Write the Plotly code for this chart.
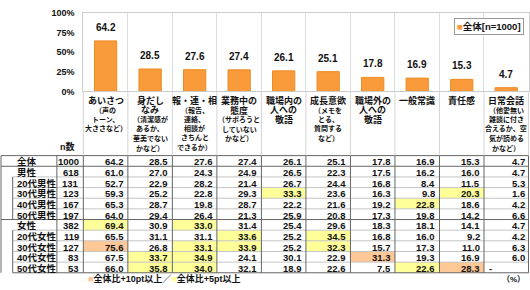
import plotly.graph_objects as go

# ---------------- data ----------------
cat_main = [["あいさつ"], ["身だし", "なみ"], ["報・連・相"], ["業務中の", "態度"],
            ["職場内の", "人への", "敬語"], ["成長意欲"], ["職場外の", "人への", "敬語"],
            ["一般常識"], ["責任感"], ["日常会話"]]
cat_sub = [["（声の", "トーン、", "大きさなど）"],
           ["（清潔感が", "あるか、", "華美でない", "かなど）"],
           ["（報告、", "連絡、", "相談が", "きちんと", "できるか）"],
           ["（サボろうと", "していない", "かなど）"],
           [],
           ["（メモを", "とる、", "質問する", "など）"],
           [], [], [],
           ["（他愛無い", "雑談に付き", "合えるか、空", "気が読める", "かなど）"]]

overall = [64.2, 28.5, 27.6, 27.4, 26.1, 25.1, 17.8, 16.9, 15.3, 4.7]

row_labels = ["全体", "男性", "20代男性", "30代男性", "40代男性", "50代男性",
              "女性", "20代女性", "30代女性", "40代女性", "50代女性"]
row_n = [1000, 618, 131, 123, 167, 197, 382, 119, 127, 83, 53]
row_values = [
    [64.2, 28.5, 27.6, 27.4, 26.1, 25.1, 17.8, 16.9, 15.3, 4.7],
    [61.0, 27.0, 24.3, 24.9, 26.5, 22.3, 17.5, 16.2, 16.0, 4.7],
    [52.7, 22.9, 28.2, 21.4, 26.7, 24.4, 16.8, 8.4, 11.5, 5.3],
    [59.3, 25.2, 22.8, 29.3, 33.3, 23.6, 16.3, 9.8, 20.3, 1.6],
    [65.3, 28.7, 19.8, 28.7, 22.2, 21.6, 19.2, 22.8, 18.6, 4.2],
    [64.0, 29.4, 26.4, 21.3, 25.9, 20.8, 17.3, 19.8, 14.2, 6.6],
    [69.4, 30.9, 33.0, 31.4, 25.4, 29.6, 18.3, 18.1, 14.1, 4.7],
    [65.5, 31.1, 31.1, 33.6, 25.2, 34.5, 16.8, 16.0, 9.2, 4.2],
    [75.6, 26.8, 33.1, 33.9, 25.2, 32.3, 15.7, 17.3, 11.0, 6.3],
    [67.5, 33.7, 34.9, 24.1, 30.1, 22.9, 31.3, 19.3, 16.9, 6.0],
    [66.0, 35.8, 34.0, 32.1, 18.9, 22.6, 7.5, 22.6, 28.3, None],
]
sub_rows = [2, 3, 4, 5, 7, 8, 9, 10]
y_ticks = [0, 25, 50, 75, 100]
y_ticktext = ["0%", "25%", "50%", "75%", "100%"]
legend_name = "全体[n=1000]"

# ---------------- style / layout constants ----------------
W, H = 530, 290
FONT = "Liberation Sans, Noto Sans CJK JP, sans-serif"
BAR = "#F99B3A"
BAR_LINE = "#EE8A22"
YEL = "#FFFF99"
ORG = "#FFC896"
COL_L, COL_W = 83.5, 44.6
TABLE_TOP, ROW_H = 156.0, 11.03
PLOT_TOP, PLOT_BOT = 8.0, 89.5
NCOL = len(overall)
NROW = len(row_labels)
TXT_SHIFT = -1


def px_x(p):
    return (p - COL_L) / COL_W - 0.5


def px_y(p):
    return (p - TABLE_TOP) / ROW_H - 0.5


fig = go.Figure()
fig.add_trace(go.Bar(
    x=list(range(NCOL)), y=overall, name=legend_name,
    marker=dict(color=BAR, line=dict(color=BAR_LINE, width=1)),
    width=0.5, showlegend=False, hoverinfo="skip",
    xaxis="x", yaxis="y"))

annotations = []
shapes = []

# bar value labels
for i, v in enumerate(overall):
    annotations.append(dict(x=i, y=v, xref="x", yref="y", text=f"<b>{v:.1f}</b>",
                            showarrow=False, yanchor="bottom", yshift=6,
                            font=dict(family=FONT, size=10, color="#111")))

# legend box
annotations.append(dict(x=525 / W, y=1 - 13 / H, xref="paper", yref="paper",
                        xanchor="right", yanchor="top", showarrow=False,
                        text=f"<span style='color:{BAR}'>■</span><b>{legend_name}</b>",
                        font=dict(family=FONT, size=9.5, color="#111"),
                        bordercolor="#999", borderwidth=1, borderpad=2, bgcolor="white"))

# header labels
for i in range(NCOL):
    lines = [(t, 9) for t in cat_main[i]] + [(t, 7) for t in cat_sub[i]]
    for k, (t, s) in enumerate(lines):
        annotations.append(dict(x=i, y=px_y(99 + 9.75 * k), xref="x2", yref="y2",
                                text=f"<b>{t}</b>", showarrow=False,
                                xanchor="center", yanchor="middle",
                                font=dict(family=FONT, size=s, color="#111")))

annotations.append(dict(x=px_x(68), y=px_y(147), xref="x2", yref="y2", text="<b>n数</b>",
                        showarrow=False, font=dict(family=FONT, size=9, color="#111")))

# highlight fills
for r, vals in enumerate(row_values):
    for c, v in enumerate(vals):
        if v is None:
            continue
        d = round(v - overall[c], 1)
        color = ORG if d >= 10 else (YEL if d >= 5 else None)
        if color:
            shapes.append(dict(type="rect", xref="x2", yref="y2",
                               x0=c - 0.5, x1=c + 0.5, y0=r - 0.5, y1=r + 0.5,
                               fillcolor=color, line=dict(width=0), layer="above"))

# table text
for r, (lab, n, vals) in enumerate(zip(row_labels, row_n, row_values)):
    annotations.append(dict(x=px_x(15), y=r, xref="x2", yref="y2", text=f"<b>{lab}</b>",
                            showarrow=False, xanchor="left", yshift=TXT_SHIFT,
                            font=dict(family=FONT, size=9.5, color="#111")))
    annotations.append(dict(x=-0.5, y=r, xref="x2", yref="y2", text=f"<b>{n}</b>",
                            showarrow=False, xanchor="right", xshift=-2, yshift=TXT_SHIFT,
                            font=dict(family=FONT, size=9.5, color="#111")))
    for c, v in enumerate(vals):
        if v is None:
            annotations.append(dict(x=c - 0.5, y=r, xref="x2", yref="y2", text="<b>-</b>",
                                    showarrow=False, xanchor="left", xshift=3,
                                    yshift=TXT_SHIFT,
                                    font=dict(family=FONT, size=9.5, color="#111")))
        else:
            annotations.append(dict(x=c + 0.5, y=r, xref="x2", yref="y2",
                                    text=f"<b>{v:.1f}</b>", showarrow=False,
                                    xanchor="right", xshift=-2, yshift=TXT_SHIFT,
                                    font=dict(family=FONT, size=9.5, color="#111")))

# table lines
LIGHT, DARK, HDR = "#c4c4c4", "#666666", "#d4d4d4"
x_left, x_indent, x_nb = px_x(1), px_x(12.7), px_x(57)
x_right = NCOL - 0.5
top, bot = -0.5, NROW - 0.5


def line(x0, y0, x1, y1, color, w=1):
    shapes.append(dict(type="line", xref="x2", yref="y2", x0=x0, y0=y0, x1=x1, y1=y1,
                       line=dict(color=color, width=w), layer="above"))


# horizontal
for r in range(NROW + 1):
    yb = r - 0.5
    if r in (0, 1, 6):
        line(x_left, yb, x_right, yb, DARK)
    elif r == NROW:
        line(x_indent, yb, x_right, yb, DARK)
    else:
        line(x_indent, yb, x_right, yb, LIGHT)
# header verticals
for c in range(NCOL + 1):
    line(c - 0.5, px_y(PLOT_BOT), c - 0.5, top, HDR)
# table verticals
for c in range(NCOL + 1):
    line(c - 0.5, top, c - 0.5, bot, DARK)
line(x_nb, top, x_nb, bot, DARK)
line(x_left, top, x_left, bot, DARK)
for r in sub_rows:
    line(x_indent, r - 0.5, x_indent, r + 0.5, DARK)

# bottom notes
annotations.append(dict(x=86 / W, y=1 - 283 / H, xref="paper", yref="paper",
                        xanchor="left", yanchor="middle", showarrow=False,
                        text=f"<span style='color:{ORG}'>■</span><b>全体比+10pt以上／</b>"
                             f"<span style='color:{YEL}'>■</span><b>全体比+5pt以上</b>",
                        font=dict(family=FONT, size=9, color="#111")))
annotations.append(dict(x=528 / W, y=1 - 284 / H, xref="paper", yref="paper",
                        xanchor="right", yanchor="middle", showarrow=False,
                        text="<b>（%）</b>", font=dict(family=FONT, size=8, color="#111")))

fig.update_layout(
    width=W, height=H, margin=dict(l=0, r=0, t=0, b=0),
    paper_bgcolor="white", plot_bgcolor="rgba(0,0,0,0)",
    xaxis=dict(domain=[COL_L / W, (COL_L + NCOL * COL_W) / W], range=[-0.5, NCOL - 0.5],
               tickvals=[i + 0.5 for i in range(NCOL - 1)], showticklabels=False,
               showgrid=True, gridcolor="#dddddd", zeroline=False,
               showline=True, mirror=True, linecolor="#cccccc", ticks="", anchor="y"),
    yaxis=dict(domain=[1 - PLOT_BOT / H, 1 - PLOT_TOP / H], range=[0, 100],
               tickvals=y_ticks, ticktext=[f"<b>{t}</b>" for t in y_ticktext],
               tickfont=dict(family=FONT, size=9, color="#111"),
               showgrid=False, zeroline=False, showline=True, mirror=True,
               linecolor="#cccccc", ticks="", ticklabelstandoff=6, anchor="x"),
    xaxis2=dict(domain=[0, 1], range=[px_x(0), px_x(W)], visible=False, anchor="y2"),
    yaxis2=dict(domain=[0, 1], range=[px_y(H), px_y(0)], visible=False, anchor="x2"),
    annotations=annotations, shapes=shapes,
)

fig.write_html("out.html")
